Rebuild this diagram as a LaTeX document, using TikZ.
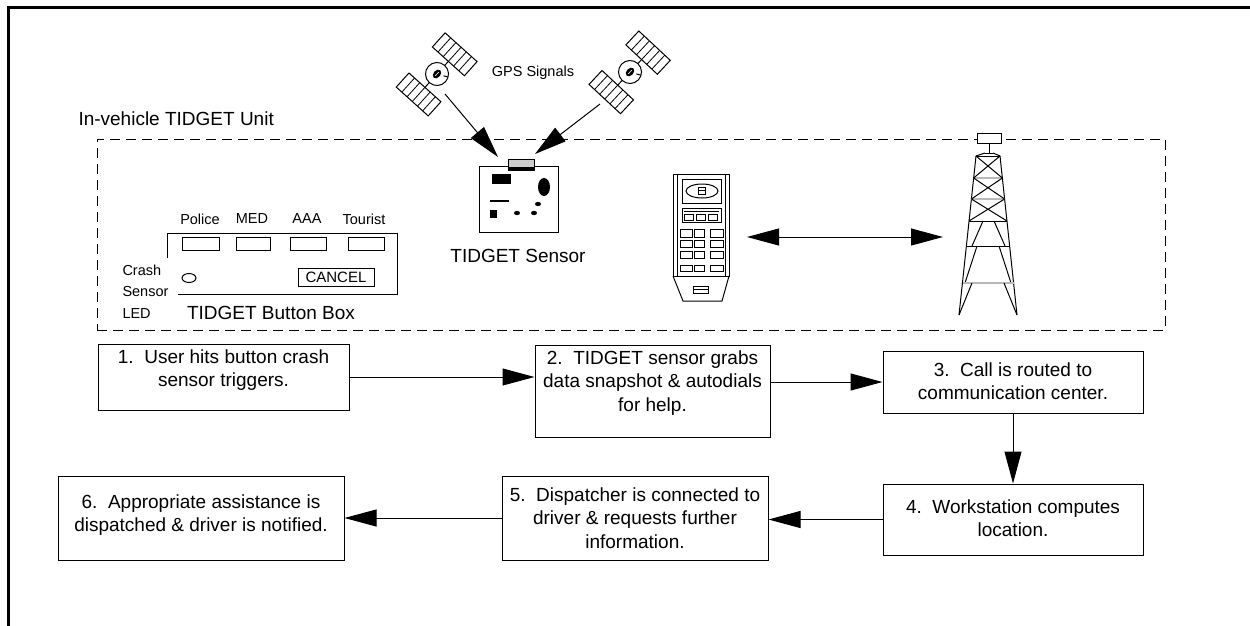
\documentclass[tikz,border=0pt]{standalone}
\usepackage{fontspec}
\setmainfont{Liberation Sans}
\usetikzlibrary{arrows.meta}

\tikzset{
  pics/satellite/.style={code={
    % body with its lens
    \draw[fill=white] (0,0) circle[radius=11.5pt];
    \fill (0,0) ellipse[x radius=5pt, y radius=3.5pt];
    \draw[white, line width=0.6pt] (-2.5,0) -- (2.5,0);
    \draw (3,6) -- (5,10);
    % arms
    \draw (11.5,0) -- (17,0) (-11.5,0) -- (-18,0);
    % solar panels
    \draw[fill=white] (17,-21.5) rectangle (36,21.5);
    \draw[fill=white] (-37,-21.5) rectangle (-18,21.5);
    \foreach \v in {-14,-7,0,7,14} {
      \draw[line width=0.8pt] (17,\v) -- (36,\v);
      \draw[line width=0.8pt] (-37,\v) -- (-18,\v);
    }
  }}
}

\begin{document}
\begin{tikzpicture}[x=1pt,y=-1pt,line width=1pt,
  bigtip/.style={-{Triangle[length=32pt,width=17pt]}},
  dbltip/.style={{Triangle[length=32pt,width=17pt]}-{Triangle[length=32pt,width=17pt]}},
  stepbox/.style={draw,line width=1pt,inner sep=0pt},
  steptext/.style={align=center,inner sep=0pt,anchor=north,font=\fontsize{19}{23.5}\selectfont},
  bigtext/.style={inner sep=0pt,font=\fontsize{19}{23}\selectfont},
  smalltext/.style={inner sep=0pt,font=\fontsize{14.5}{21.5}\selectfont},
  unitbox/.style={draw,line width=1pt,dash pattern=on 10pt off 6pt,inner sep=0pt},
  btn/.style={draw,line width=1pt,inner sep=0pt},
  towerbar/.style={draw,line width=0.8pt,double=gray!55,double distance=1.2pt},
]
\useasboundingbox (0,0) rectangle (1250,626);

% page frame
\draw[line width=3pt,line join=miter] (8.5,626) -- (8.5,7.5) -- (1250,7.5);

% in-vehicle unit outline
\node[unitbox,minimum width=1068pt,minimum height=191pt] (unit) at (631,234.5) {};
\node[bigtext,anchor=west] (unitlabel) at (78,119) {In-vehicle TIDGET Unit};

% satellites
\pic[rotate=48] at (437,74) {satellite};
\pic[rotate=47] at (630,72) {satellite};
\node[smalltext] (gps) at (533,73) {GPS Signals};

% sensor board
\node[stepbox,minimum width=79pt,minimum height=66pt] (sensor) at (518.5,199) {};
\draw[fill=gray!40] (508,159) rectangle (534,170);
\fill (508,167) rectangle (534,170);
\fill (492,174) rectangle (511,184);
\fill (544,187) ellipse[x radius=6pt, y radius=9pt];
\draw[line width=2pt] (490,201) -- (509,201);
\fill (490,210) rectangle (497,218);
\fill (517,213) ellipse[x radius=3pt, y radius=2.2pt];
\fill (534,213) ellipse[x radius=3pt, y radius=2.2pt];
\fill (538,204) ellipse[x radius=3pt, y radius=2.2pt];
\node[bigtext] (sensorlabel) at (518,256) {TIDGET Sensor};

\coordinate (gpsL) at (445,94);
\coordinate (gpsR) at (600,104);
\coordinate (sensL) at (498,157);
\coordinate (sensR) at (535,154);
\draw[bigtip] (gpsL) -- (sensL);
\draw[bigtip] (gpsR) -- (sensR);

% button box
\draw (167,258) -- (167,233) -- (397,233) -- (397,294) -- (178,294);
\node[btn,minimum width=37pt,minimum height=13pt] (police) at (200.5,243.5) {};
\node[btn,minimum width=34pt,minimum height=13pt] (med) at (253,243.5) {};
\node[btn,minimum width=36pt,minimum height=13pt] (aaa) at (308,243.5) {};
\node[btn,minimum width=36pt,minimum height=13pt] (tourist) at (366,243.5) {};
\node[smalltext] (policel) at (200,219) {Police};
\node[smalltext] (medl) at (252,219) {MED};
\node[smalltext] (aaal) at (307,219) {AAA};
\node[smalltext] (touristl) at (364,219) {Tourist};
\draw (189,278) ellipse[x radius=7pt, y radius=4.5pt];
\node[btn,minimum width=76pt,minimum height=18pt,font=\fontsize{15}{18}\selectfont] (cancel) at (336,277) {CANCEL};
\node[smalltext,align=left,anchor=north west] (led) at (122,264) {Crash\\Sensor\\LED};
\node[bigtext] (boxlabel) at (271,312.5) {TIDGET Button Box};

% handset
\node[stepbox,minimum width=56pt,minimum height=102pt] (phone) at (701,225) {};
\draw (677,174) -- (677,276) (725,174) -- (725,276);
\draw (673,276) -- (683,301) -- (722,301) -- (729,276);
\draw (682,179) rectangle (721,203);
\draw (702,191) ellipse[x radius=16pt, y radius=7pt];
\draw (698,187) rectangle (705,190.5) (698,190.5) rectangle (705,194);
\draw (682,208) rectangle (721,222);
\draw (684,211.5) -- (719,211.5);
\foreach \x in {684,696,708} \draw (\x,214) rectangle ++(9,6);
\foreach \y/\h in {229/8,240/7,251/7,265/6} {
  \draw (680,\y) rectangle ++(12,\h);
  \draw (694,\y) rectangle ++(10,\h);
  \draw (710,\y) rectangle ++(13,\h);
}
\draw (693,286) rectangle (708,289.5) (693,289.5) rectangle (708,293);

% radio tower
\draw[fill=white] (977,133) rectangle (1001,143);
\draw (989,143) -- (989,153);
\draw (985,153) -- (993,153);
\draw (985,153) -- (976,156) (993,153) -- (1000,156);
\draw (976,156) -- (959,315);
\draw (1000,156) -- (1017,315);
\draw (976,156) -- (1000,156);
\draw[towerbar] (973.6,178) -- (1002.4,178);
\draw[towerbar] (971.4,199) -- (1004.6,199);
\draw (969,221) -- (1007,221);
\draw (976,156) -- (1002.4,178) (1000,156) -- (973.6,178);
\draw (973.6,178) -- (1004.6,199) (1002.4,178) -- (971.4,199);
\draw (971.4,199) -- (1007,221) (1004.6,199) -- (969,221);
\draw (983,221) -- (972,246) (994,221) -- (1005,246);
\draw (967,246) -- (1010,246);
\draw (977,246) -- (965,283) (999,246) -- (1011,283);
\draw[towerbar] (963,283) -- (1014,283);
\draw (972,283) -- (959,315) (1004,283) -- (1017,315);

\coordinate (phport) at (747,237);
\coordinate (twport) at (943,237);
\draw[dbltip] (phport) -- (twport);

% process steps
\node[stepbox,minimum width=251pt,minimum height=66pt] (b1) at (223.5,377) {};
\node[stepbox,minimum width=235pt,minimum height=92pt] (b2) at (652.5,391) {};
\node[stepbox,minimum width=260pt,minimum height=62pt] (b3) at (1013,382) {};
\node[stepbox,minimum width=260pt,minimum height=71pt] (b4) at (1013,519.5) {};
\node[stepbox,minimum width=266pt,minimum height=84pt] (b5) at (635,518) {};
\node[stepbox,minimum width=286pt,minimum height=84pt] (b6) at (201,518) {};

\node[steptext] (t1) at (223.5,349) {1.\ \ User hits button crash\\sensor triggers.};
\node[steptext] (t2) at (652.5,350) {2.\ \ TIDGET sensor grabs\\data snapshot \& autodials\\for help.};
\node[steptext] (t3) at (1013,362) {3.\ \ Call is routed to\\communication center.};
\node[steptext] (t4) at (1013,499) {4.\ \ Workstation computes\\location.};
\node[steptext] (t5) at (635,487) {5.\ \ Dispatcher is connected to\\driver \& requests further\\information.};
\node[steptext] (t6) at (201,494) {6.\ \ Appropriate assistance is\\dispatched \& driver is notified.};

\draw[bigtip] (b1.east) -- (b1.east -| b2.west);
\draw[bigtip] (b3.west -| b2.east) -- (b3.west);
\draw[bigtip] (b3.south) -- (b4.north);
\draw[bigtip] (b4.west) -- (b4.west -| b5.east);
\draw[bigtip] (b5.west) -- (b6.east);
\end{tikzpicture}
\end{document}
